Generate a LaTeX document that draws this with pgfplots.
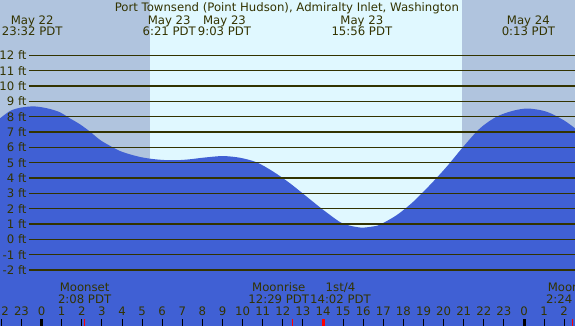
\documentclass[border=0pt]{standalone}
\usepackage{pgfplots}
\pgfplotsset{compat=1.18}
\usepackage{fontspec}
\setmainfont{DejaVu Sans}
\definecolor{night}{HTML}{B0C4DE}
\definecolor{day}{HTML}{E0F8FF}
\definecolor{tide}{HTML}{4060D4}
\definecolor{ink}{HTML}{333300}
\tikzset{lbl/.style={font=\fontsize{11.7}{13}\selectfont, text=ink, inner sep=0pt}}
\begin{document}
\begin{tikzpicture}[x=1pt,y=1pt]
\useasboundingbox (0,0) rectangle (575,326);
\clip (0,0) rectangle (575,326);
\begin{axis}[at={(0,0)}, anchor=south west, scale only axis, width=575pt, height=326pt,
  xmin=-2.0697, xmax=26.537, ymin=-5.656, ymax=15.61, axis lines=none, clip=false]
% day / night background
\fill[night] (axis cs:-2.0697,-5.656) rectangle (axis cs:5.393,15.61);
\fill[day] (axis cs:5.393,-5.656) rectangle (axis cs:20.915,15.61);
\fill[night] (axis cs:20.915,-5.656) rectangle (axis cs:26.537,15.61);
% tide
\fill[tide] (axis cs:-2.0697,-5.656) rectangle (axis cs:26.537,0.5);
\addplot[draw=none, fill=tide, smooth] table {
h ft
-2.07 7.89
-1.57 8.37
-1.08 8.58
-0.47 8.67
-0.08 8.63
0.42 8.50
0.92 8.28
1.41 7.89
1.91 7.50
2.41 7.02
2.91 6.48
3.40 6.10
3.90 5.76
4.40 5.54
4.90 5.37
5.39 5.26
5.89 5.19
6.35 5.16
6.89 5.17
7.38 5.22
7.88 5.30
8.38 5.37
9.05 5.43
9.87 5.32
10.70 5.02
11.53 4.41
12.36 3.65
13.19 2.78
14.02 1.91
14.85 1.12
15.30 0.90
15.68 0.80
15.93 0.76
16.17 0.78
16.50 0.84
16.84 0.96
17.67 1.58
18.49 2.45
19.32 3.54
20.15 4.73
20.98 6.04
21.81 7.24
22.64 8.00
23.47 8.39
24.22 8.53
25.13 8.32
25.96 7.78
26.54 7.24
} \closedcycle;
% foot lines and labels
\pgfplotsinvokeforeach{-2,...,12}{
  \addplot[ink, line width=1.1pt] coordinates {(-0.627,#1) (26.537,#1)};
  \node[lbl, anchor=east] at (axis cs:-0.74,#1) {#1 ft};
}
% title
\node[lbl, anchor=base] at (axis cs:12.2,14.85) {Port Townsend (Point Hudson), Admiralty Inlet, Washington};
% tide events
\node[lbl, anchor=base] at (axis cs:-0.467,14.02) {May 22};
\node[lbl, anchor=base] at (axis cs:-0.467,13.28) {23:32 PDT};
\node[lbl, anchor=base] at (axis cs:6.35,14.02) {May 23};
\node[lbl, anchor=base] at (axis cs:6.35,13.28) {6:21 PDT};
\node[lbl, anchor=base] at (axis cs:9.1,14.02) {May 23};
\node[lbl, anchor=base] at (axis cs:9.1,13.28) {9:03 PDT};
\node[lbl, anchor=base] at (axis cs:15.933,14.02) {May 23};
\node[lbl, anchor=base] at (axis cs:15.933,13.28) {15:56 PDT};
\node[lbl, anchor=base] at (axis cs:24.217,14.02) {May 24};
\node[lbl, anchor=base] at (axis cs:24.217,13.28) {0:13 PDT};
% moon events
\node[lbl, anchor=base] at (axis cs:2.14,-3.42) {Moonset};
\node[lbl, anchor=base] at (axis cs:2.14,-4.17) {2:08 PDT};
\node[lbl, anchor=base] at (axis cs:11.8,-3.42) {Moonrise};
\node[lbl, anchor=base] at (axis cs:11.8,-4.17) {12:29 PDT};
\node[lbl, anchor=base] at (axis cs:14.87,-3.42) {1st/4};
\node[lbl, anchor=base] at (axis cs:14.87,-4.17) {14:02 PDT};
\node[lbl, anchor=base] at (axis cs:26.42,-3.42) {Moonset};
\node[lbl, anchor=base] at (axis cs:26.42,-4.17) {2:24 PDT};
% hour ticks
\pgfplotsinvokeforeach{-2,...,26}{
  \draw[black, line width=1pt] (axis cs:#1,-5.656) -- (axis cs:#1,-5.2);
}
\draw[black, line width=3pt] (axis cs:0,-5.656) -- (axis cs:0,-5.2);
\draw[black, line width=3pt] (axis cs:24,-5.656) -- (axis cs:24,-5.2);
\draw[red, line width=1pt] (axis cs:2.133,-5.656) -- (axis cs:2.133,-5.2);
\draw[red, line width=1pt] (axis cs:12.483,-5.656) -- (axis cs:12.483,-5.2);
\draw[red, line width=3pt] (axis cs:14.033,-5.656) -- (axis cs:14.033,-5.2);
\draw[red, line width=1pt] (axis cs:26.4,-5.656) -- (axis cs:26.4,-5.2);
% hour labels
\node[lbl, anchor=base] at (axis cs:-2,-5) {22};
\node[lbl, anchor=base] at (axis cs:-1,-5) {23};
\node[lbl, anchor=base] at (axis cs:0,-5) {0};
\node[lbl, anchor=base] at (axis cs:1,-5) {1};
\node[lbl, anchor=base] at (axis cs:2,-5) {2};
\node[lbl, anchor=base] at (axis cs:3,-5) {3};
\node[lbl, anchor=base] at (axis cs:4,-5) {4};
\node[lbl, anchor=base] at (axis cs:5,-5) {5};
\node[lbl, anchor=base] at (axis cs:6,-5) {6};
\node[lbl, anchor=base] at (axis cs:7,-5) {7};
\node[lbl, anchor=base] at (axis cs:8,-5) {8};
\node[lbl, anchor=base] at (axis cs:9,-5) {9};
\node[lbl, anchor=base] at (axis cs:10,-5) {10};
\node[lbl, anchor=base] at (axis cs:11,-5) {11};
\node[lbl, anchor=base] at (axis cs:12,-5) {12};
\node[lbl, anchor=base] at (axis cs:13,-5) {13};
\node[lbl, anchor=base] at (axis cs:14,-5) {14};
\node[lbl, anchor=base] at (axis cs:15,-5) {15};
\node[lbl, anchor=base] at (axis cs:16,-5) {16};
\node[lbl, anchor=base] at (axis cs:17,-5) {17};
\node[lbl, anchor=base] at (axis cs:18,-5) {18};
\node[lbl, anchor=base] at (axis cs:19,-5) {19};
\node[lbl, anchor=base] at (axis cs:20,-5) {20};
\node[lbl, anchor=base] at (axis cs:21,-5) {21};
\node[lbl, anchor=base] at (axis cs:22,-5) {22};
\node[lbl, anchor=base] at (axis cs:23,-5) {23};
\node[lbl, anchor=base] at (axis cs:24,-5) {0};
\node[lbl, anchor=base] at (axis cs:25,-5) {1};
\node[lbl, anchor=base] at (axis cs:26,-5) {2};
\end{axis}
\end{tikzpicture}
\end{document}
